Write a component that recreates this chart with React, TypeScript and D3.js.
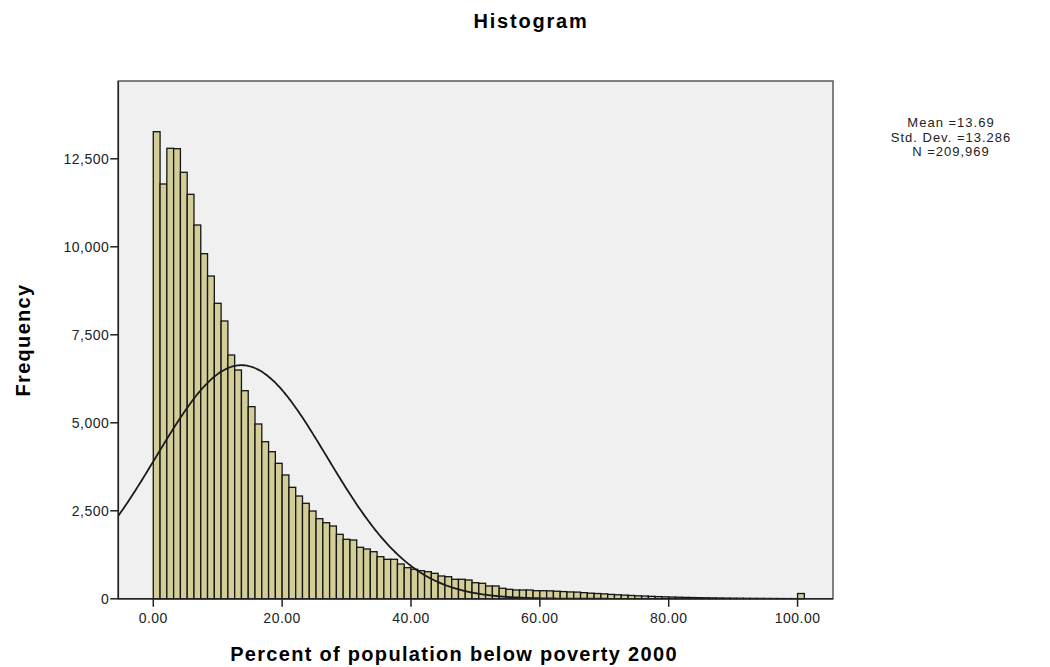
import React from "react";
import * as d3 from "d3";

// Histogram bin frequencies (bin width = 100/95, starting at 0)
const frequencies: number[] = [
  13270, 11784, 12798, 12787, 12116, 11491, 10619, 9804, 9170, 8395,
  7892, 6926, 6500, 5912, 5458, 4966, 4463, 4179, 3849, 3517,
  3167, 2920, 2713, 2494, 2276, 2162, 2068, 1832, 1690, 1670,
  1463, 1415, 1338, 1196, 1122, 1122, 989, 884, 838, 798,
  770, 724, 648, 628, 554, 554, 534, 457, 440, 364,
  364, 298, 270, 250, 250, 250, 230, 230, 225, 215,
  205, 195, 190, 175, 160, 150, 140, 125, 115, 105,
  95, 85, 78, 70, 62, 55, 50, 45, 40, 36,
  32, 29, 26, 23, 20, 18, 16, 14, 12, 11,
  10, 9, 8, 7, 6, 150,
];
const binStart = 0;
const binWidth = 100 / 95;

const stats = { mean: 13.69, sd: 13.286, n: 209969 };
const legendLines: string[] = ["Mean =13.69", "Std. Dev. =13.286", "N =209,969"];

const xTicks: number[] = [0, 20, 40, 60, 80, 100];
const yTicks: number[] = [0, 2500, 5000, 7500, 10000, 12500];

const xDomain: [number, number] = [-5.43, 105.5];
const yDomain: [number, number] = [0, 14710];

const FONT = "'Liberation Sans', Arial, sans-serif";

export default function App() {
  const W = 1050;
  const H = 667;
  const left = 118.3;
  const right = 833;
  const top = 81;
  const bottom = 598.8;

  const x = d3.scaleLinear().domain(xDomain).range([left, right]);
  const y = d3.scaleLinear().domain(yDomain).range([bottom, top]);

  const bins = frequencies.map((f, i) => ({
    x0: binStart + i * binWidth,
    x1: binStart + (i + 1) * binWidth,
    f,
  }));

  const scale = (stats.n * binWidth) / (stats.sd * Math.sqrt(2 * Math.PI));
  const curvePts: [number, number][] = d3
    .range(0, 401)
    .map((k) => xDomain[0] + ((xDomain[1] - xDomain[0]) * k) / 400)
    .map((v) => [v, scale * Math.exp(-((v - stats.mean) ** 2) / (2 * stats.sd ** 2))]);
  const line = d3
    .line<[number, number]>()
    .x((d) => x(d[0]))
    .y((d) => y(d[1]))
    .curve(d3.curveBasis);

  const fmtY = d3.format(",");
  const fmtX = d3.format(".2f");

  return (
    <svg
      width={W}
      height={H}
      style={{ position: "absolute", left: 0, top: 0, background: "#ffffff" }}
      fontFamily={FONT}
    >
      <defs>
        <clipPath id="plotclip">
          <rect x={left} y={top} width={right - left} height={bottom - top} />
        </clipPath>
      </defs>
      <text x={531} y={28} textAnchor="middle" fontSize={20} fontWeight="bold" letterSpacing={1.8}>
        Histogram
      </text>

      <rect x={left} y={top} width={right - left} height={bottom - top} fill="#f0f0f0" />

      <g>
        {bins.map((b, i) => (
          <rect
            key={i}
            x={x(b.x0)}
            y={y(b.f)}
            width={x(b.x1) - x(b.x0)}
            height={bottom - y(b.f)}
            fill="#d3ce98"
            stroke="#141414"
            strokeWidth={1.3}
          />
        ))}
      </g>

      <path
        d={line(curvePts) || ""}
        fill="none"
        stroke="#1a1a1a"
        strokeWidth={1.8}
        clipPath="url(#plotclip)"
      />

      <rect
        x={left}
        y={top}
        width={right - left}
        height={bottom - top}
        fill="none"
        stroke="#5a5a5a"
        strokeWidth={1.5}
      />
      <line x1={left} x2={left} y1={top} y2={bottom} stroke="#222" strokeWidth={1.5} />
      <line x1={left} x2={right} y1={bottom} y2={bottom} stroke="#222" strokeWidth={1.5} />

      {yTicks.map((t) => (
        <g key={t}>
          <line x1={left - 8} x2={left} y1={y(t)} y2={y(t)} stroke="#222" strokeWidth={1.5} />
          <text x={left - 9} y={y(t) + 5} textAnchor="end" fontSize={14} letterSpacing={0.5} fill="#222">
            {fmtY(t)}
          </text>
        </g>
      ))}
      {xTicks.map((t) => (
        <g key={t}>
          <line x1={x(t)} x2={x(t)} y1={bottom} y2={bottom + 8} stroke="#222" strokeWidth={1.5} />
          <text x={x(t)} y={bottom + 24} textAnchor="middle" fontSize={14} letterSpacing={0.5} fill="#222">
            {fmtX(t)}
          </text>
        </g>
      ))}

      <text
        x={454}
        y={661}
        textAnchor="middle"
        fontSize={20}
        fontWeight="bold"
        letterSpacing={1.3}
      >
        Percent of population below poverty 2000
      </text>
      <text
        transform={`translate(30,340) rotate(-90)`}
        textAnchor="middle"
        fontSize={20}
        fontWeight="bold"
        letterSpacing={1.3}
      >
        Frequency
      </text>

      {legendLines.map((s, i) => (
        <text key={i} x={951} y={127 + i * 14.5} textAnchor="middle" fontSize={13} letterSpacing={1} fill="#222">
          {s}
        </text>
      ))}
    </svg>
  );
}
